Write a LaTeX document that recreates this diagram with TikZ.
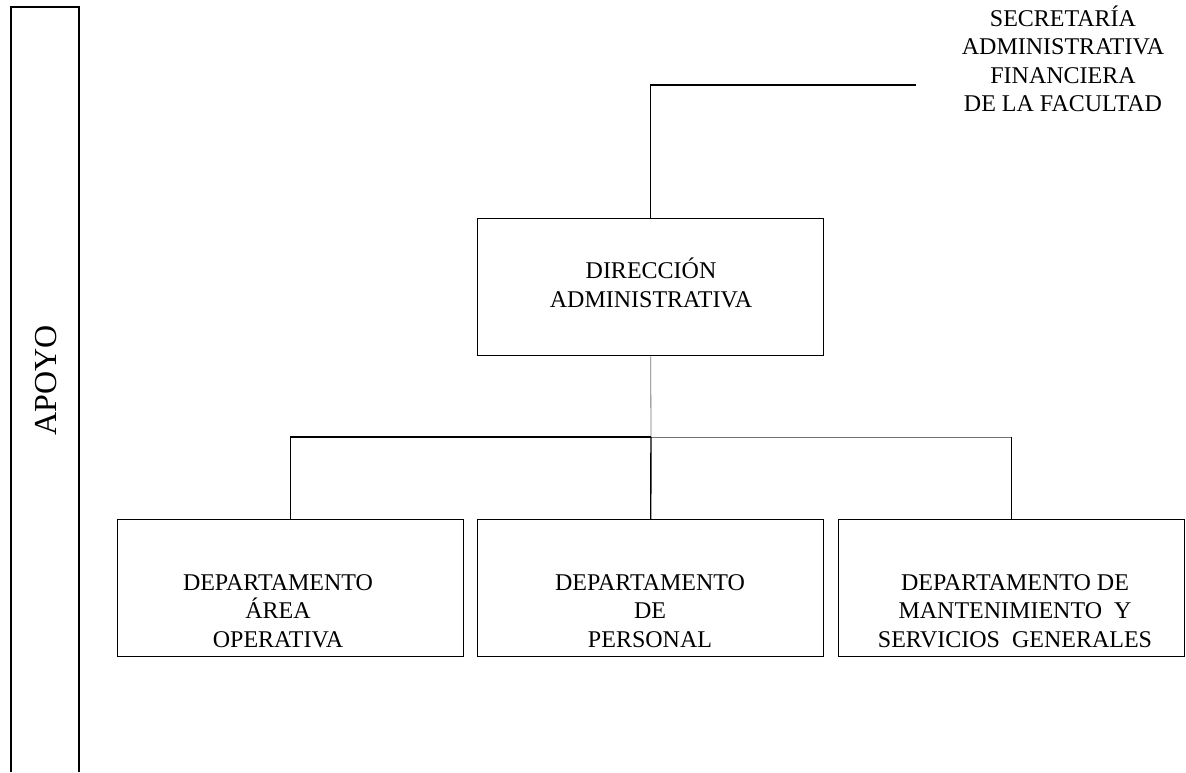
\documentclass[tikz,border=0pt]{standalone}
\usepackage{fontspec}
\setmainfont{Liberation Serif}
\begin{document}
\begin{tikzpicture}[x=1pt,y=-1pt,
  unitbox/.style={draw, line width=1.4pt, minimum width=346pt, minimum height=137pt,
    anchor=north west, inner sep=0pt},
  caption/.style={font=\fontsize{24}{28.5}\selectfont, align=center, inner sep=0pt},
  link/.style={line width=1.4pt},
  faint link/.style={line width=0.8pt, black!55}]
\useasboundingbox (0,0) rectangle (1186,772);

% side band
\draw[link] (11,772) -- (11,7) -- (79,7) -- (79,772);
\node[caption, font=\fontsize{32}{36}\selectfont, rotate=90] (apoyo) at (46,380) {APOYO};

% top unit
\node[caption] (sec) at (1063,59) {SECRETARÍA\\ADMINISTRATIVA\\FINANCIERA\\DE LA FACULTAD};
\coordinate (secend) at (916,85);

% direction box
\node[unitbox] (dir) at (477,218) {};
\node[caption] (dirtext) at (651,283) {DIRECCIÓN\\ADMINISTRATIVA};

% departments
\node[unitbox] (dep1) at (117,519) {};
\node[unitbox] (dep2) at (477,519) {};
\node[unitbox] (dep3) at (838,519) {};
\node[caption] (dep1text) at (278,611) {DEPARTAMENTO\\ÁREA\\OPERATIVA};
\node[caption] (dep2text) at (650,611) {DEPARTAMENTO\\DE\\PERSONAL};
\node[caption] (dep3text) at (1015,611) {DEPARTAMENTO DE\\MANTENIMIENTO\ \ Y\\SERVICIOS\ \ GENERALES};

% connectors
\draw[link] (secend) -| (dir.north);
\coordinate (bus) at (651,437);
\draw[faint link] (dir.south) -- (bus);
\draw[link] (dep1.north) |- (bus);
\draw[faint link] (bus) -| (dep3.north);
\draw[link] (dep3.north) -- ++(0,-82);
\draw[link] (bus) -- (dep2.north);
\end{tikzpicture}
\end{document}
